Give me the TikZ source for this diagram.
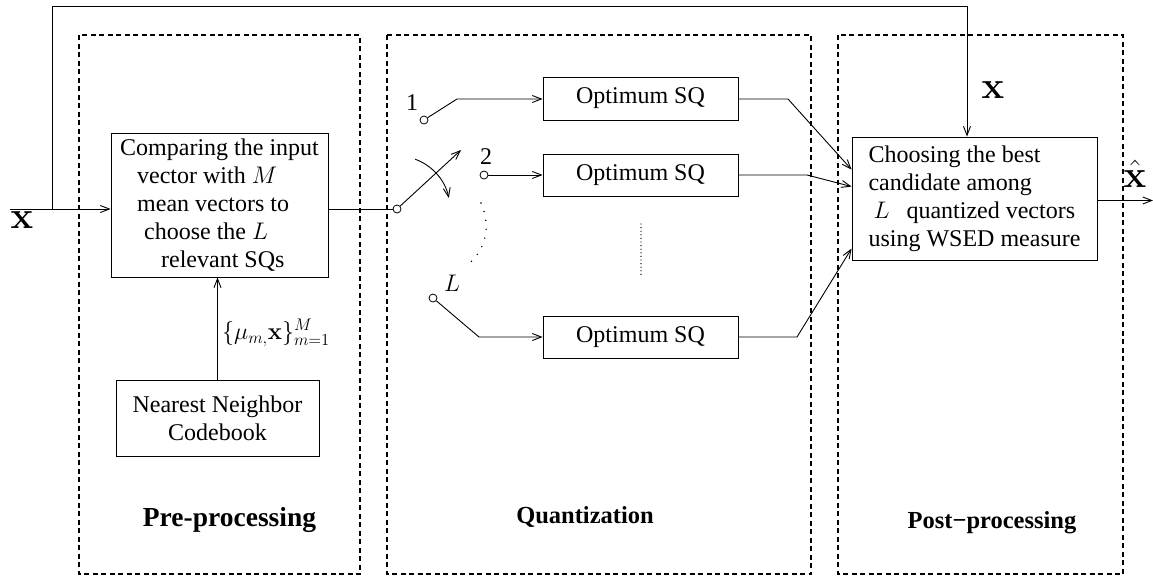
\RequirePackage{fix-cm}
\documentclass[tikz,border=0pt]{standalone}
\usepackage[no-math]{fontspec}
\setmainfont{Liberation Serif}
\usetikzlibrary{arrows.meta,calc}
\begin{document}
\begin{tikzpicture}[x=1pt,y=-1pt,
  every node/.style={font=\fontsize{24}{28}\selectfont},
  box/.style={draw,line width=0.9pt,inner sep=0pt},
  arr/.style={line width=0.9pt,-{Straight Barb[length=9pt,width=7pt]}},
  wire/.style={line width=0.9pt},
  grp/.style={draw,line width=1.1pt,dash pattern=on 5pt off 3.5pt},
  contact/.style={circle,draw,line width=0.8pt,fill=white,inner sep=0pt,minimum size=8pt},
  grplabel/.style={font=\fontsize{24.5}{28}\selectfont\bfseries},
  biglabel/.style={font=\fontsize{38}{38}\selectfont,inner sep=0pt},
  dotsty/.style={line width=1.6pt,line cap=round,dash pattern=on 0pt off 9pt},
  vdots/.style={line width=1.4pt,line cap=round,dash pattern=on 0pt off 3.6pt}
]
\useasboundingbox (0,0) rectangle (1153,576);

% dashed groups
\draw[grp] (79,35) rectangle (360,574);
\draw[grp] (387,35) rectangle (811,574);
\draw[grp] (838,35) rectangle (1123,574);

% boxes
\node[box,minimum width=217pt,minimum height=144pt,align=left] (cmp) at (219.5,205)
  {Comparing the input\\
   \hspace*{17pt}vector with $M$\\
   \hspace*{17pt}mean vectors to\\
   \hspace*{24pt}choose the $L$\\
   \hspace*{41pt}relevant SQs};
\node[box,minimum width=203pt,minimum height=76pt,align=center] (cb) at (217.5,418)
  {Nearest Neighbor\\Codebook};
\node[box,minimum width=195pt,minimum height=43pt] (sq1) at (640.5,98.5) {Optimum SQ};
\node[box,minimum width=195pt,minimum height=42pt] (sq2) at (640.5,175) {Optimum SQ};
\node[box,minimum width=195pt,minimum height=42pt] (sq3) at (640.5,337) {Optimum SQ};
\node[box,minimum width=245pt,minimum height=123pt,align=left] (ch) at (974.5,198.5)
  {Choosing the best\\
   candidate among\\
   \hspace*{5pt}$L$\hspace{17pt}quantized vectors\\
   using WSED measure};

% contacts
\node[contact] (piv) at (397,209) {};
\node[contact] (c1) at (424,120) {};
\node[contact] (c2) at (484,175) {};
\node[contact] (cL) at (433,298) {};
\node (l1) at (412,103) {1};
\node (l2) at (486,157) {2};
\node (lL) at (452,283) {$L$};

% coordinates
\coordinate (in) at (10,209);
\coordinate (fb) at (52,209);
\coordinate (fbx) at (967,0);
\coordinate (k1) at (457,99);
\coordinate (kL) at (479,337);
\coordinate (sw) at (461,150);
\coordinate (o1) at (788,99);
\coordinate (o2) at (807,175);
\coordinate (o3) at (797,337);
\coordinate (out) at (1153,0);

% input and feedback
\draw[arr] (in) -- (in -| cmp.west);
\draw[arr] (fb) -- (52,6) -- (967,6) -- (ch.north -| fbx);
\draw[wire] (cmp.east |- piv) -- (piv);
\draw[arr] (cb.north) -- (cb.north |- cmp.south);
\node[anchor=west,inner sep=0pt] (mu) at (222,333) {$\{\mu_{m,}\mathbf{x}\}_{m=1}^{M}$};

% switch
\draw[arr] (piv) -- (sw);
\draw[arr] (piv.center) ++(-70:53) arc[start angle=-70,end angle=-12,radius=53];
\draw[dotsty] (481,203) .. controls (491,226) and (487,250) .. (465,267);

% contacts to quantizers
\draw[arr] (c1) -- (k1) -- (k1 -| sq1.west);
\draw[arr] (c2) -- (c2 -| sq2.west);
\draw[arr] (cL) -- (kL) -- (kL -| sq3.west);
\draw[vdots] (641,224) -- (641,277);

% quantizers to chooser
\draw[arr] (sq1.east |- o1) -- (o1) -- ($(ch.north west)+(0,33)$);
\draw[arr] (sq2.east |- o2) -- (o2) -- ($(ch.north west)+(0,50)$);
\draw[arr] (sq3.east |- o3) -- (o3) -- ($(ch.north west)+(0,112)$);

% output
\draw[arr] ($(ch.east)+(0,2)$) -- ($(ch.east -| out)+(0,2)$);

% labels
\node[biglabel] (xin) at (22,220) {$\mathbf{x}$};
\node[biglabel] (xr) at (993,90) {$\mathbf{x}$};
\node[biglabel] (xh) at (1135,174) {$\hat{\mathbf{x}}$};

\node[grplabel,font=\fontsize{27.5}{30}\selectfont\bfseries] (g1) at (229.5,520) {Pre-processing};
\node[grplabel] (g2) at (585,517) {Quantization};
\node[grplabel] (g3) at (992,523) {Post−processing};
\end{tikzpicture}
\end{document}
